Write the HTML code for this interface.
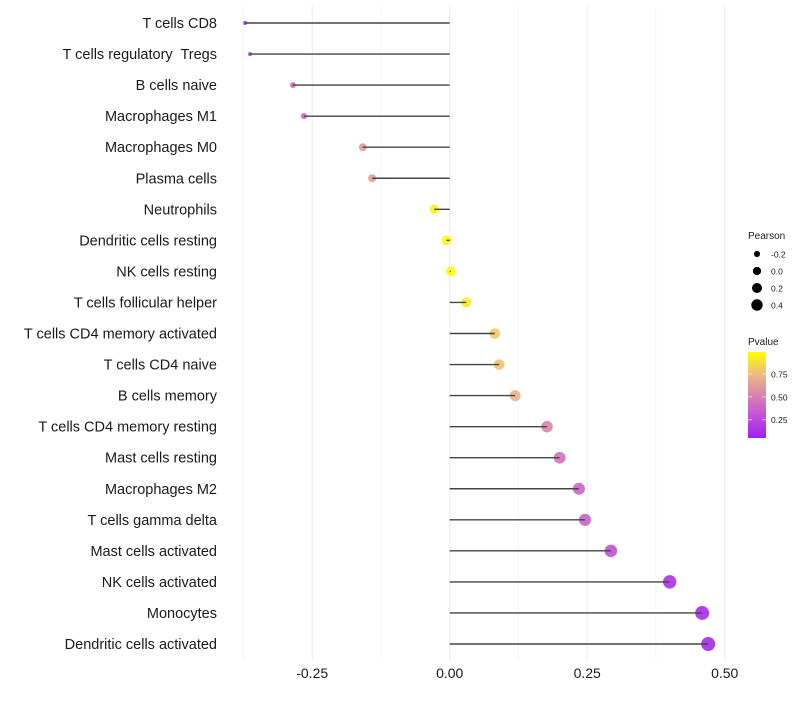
<!DOCTYPE html>
<html><head><meta charset="utf-8"><style>
body{margin:0;background:#fff;font-family:"Liberation Sans",sans-serif}
text{white-space:pre}
</style></head><body>
<svg id="c" width="800" height="700" xmlns="http://www.w3.org/2000/svg" font-family="Liberation Sans, sans-serif"></svg>
<script>
const categories=["T cells CD8","T cells regulatory  Tregs","B cells naive","Macrophages M1","Macrophages M0","Plasma cells","Neutrophils","Dendritic cells resting","NK cells resting","T cells follicular helper","T cells CD4 memory activated","T cells CD4 naive","B cells memory","T cells CD4 memory resting","Mast cells resting","Macrophages M2","T cells gamma delta","Mast cells activated","NK cells activated","Monocytes","Dendritic cells activated"];
const pearson=[-0.372,-0.363,-0.285,-0.265,-0.158,-0.141,-0.028,-0.006,0.002,0.03,0.082,0.09,0.119,0.177,0.2,0.235,0.246,0.293,0.40,0.459,0.47];
const pvalues=[0.1,0.12,0.35,0.37,0.6,0.62,0.95,0.99,0.99,0.93,0.8,0.78,0.7,0.5,0.42,0.35,0.33,0.25,0.1,0.06,0.05];
const xTicks=[-0.25,0,0.25,0.5];
const xTickLabels=["-0.25","0.00","0.25","0.50"];
const xMinor=[-0.375,-0.125,0.125,0.375];
const sizeLegend=[-0.2,0.0,0.2,0.4];
const sizeLegendLabels=["-0.2","0.0","0.2","0.4"];
const pTicks=[0.75,0.5,0.25];
const pTickLabels=["0.75","0.50","0.25"];

const svg=document.getElementById('c');
const NS="http://www.w3.org/2000/svg";
function el(t,a,p){const e=document.createElementNS(NS,t);for(const k in a)e.setAttribute(k,a[k]);(p||svg).appendChild(e);return e;}
const x=v=>449.7+v*550;
const y=i=>23+i*31.05;
const r=p=>Math.sqrt(Math.max(2,23.8+53.6*p));
const stops=[[0,[160,32,240]],[0.25,[192,80,216]],[0.5,[216,132,172]],[0.75,[238,188,128]],[1,[255,255,0]]];
function col(v){for(let i=1;i<stops.length;i++){if(v<=stops[i][0]){const a=stops[i-1],b=stops[i],t=(v-a[0])/(b[0]-a[0]);return 'rgb('+a[1].map((c,j)=>Math.round(c+(b[1][j]-c)*t)).join(',')+')';}}return 'rgb(255,255,0)';}
const y0=p=>438-(p-0.05)/0.94*86;

xMinor.forEach(v=>{const g=el('line',{x1:x(v),x2:x(v),y1:5,y2:660,stroke:'#f4f4f4','stroke-width':0.8});

});
xTicks.forEach((v,i)=>{const g=el('line',{x1:x(v),x2:x(v),y1:5,y2:660,stroke:'#ebebeb','stroke-width':1});


const t=el('text',{x:x(v),y:678,'text-anchor':'middle','font-size':14,fill:'#1a1a1a'});t.textContent=xTickLabels[i];

});
categories.forEach((c,i)=>{
const t=el('text',{x:217,y:y(i)+5,'text-anchor':'end','font-size':14.5,fill:'#1a1a1a'});t.textContent=c;


const p=el('circle',{cx:x(pearson[i]),cy:y(i),r:r(pearson[i]),fill:col(pvalues[i]),'fill-opacity':0.9});


const s=el('line',{x1:x(0),x2:x(pearson[i]),y1:y(i),y2:y(i),stroke:'#444','stroke-width':1.4});


});
let t=el('text',{x:748,y:239,'font-size':10,fill:'#1a1a1a'});t.textContent='Pearson';


sizeLegend.forEach((v,i)=>{const cy=254+i*17;
const c=el('circle',{cx:757,cy:cy,r:r(v)*0.85,fill:'#000'});


const l=el('text',{x:771,y:cy+3.5,'font-size':8.5,fill:'#1a1a1a'});l.textContent=sizeLegendLabels[i];

});
t=el('text',{x:748,y:345,'font-size':10,fill:'#1a1a1a'});t.textContent='Pvalue';


const defs=el('defs',{});const lg=el('linearGradient',{id:'g',x1:0,y1:1,x2:0,y2:0},defs);
stops.forEach(s=>el('stop',{offset:s[0],'stop-color':'rgb('+s[1].join(',')+')'},lg));
const bar=el('rect',{x:748,y:352,width:18,height:86,fill:'url(#g)'});


pTicks.forEach((v,i)=>{const yy=y0(v);el('line',{x1:748,x2:752,y1:yy,y2:yy,stroke:'#fff','stroke-opacity':0.6});el('line',{x1:762,x2:766,y1:yy,y2:yy,stroke:'#fff','stroke-opacity':0.6});
const l=el('text',{x:771,y:yy+3.5,'font-size':8.5,fill:'#1a1a1a'});l.textContent=pTickLabels[i];

});
</script>
</body></html>
